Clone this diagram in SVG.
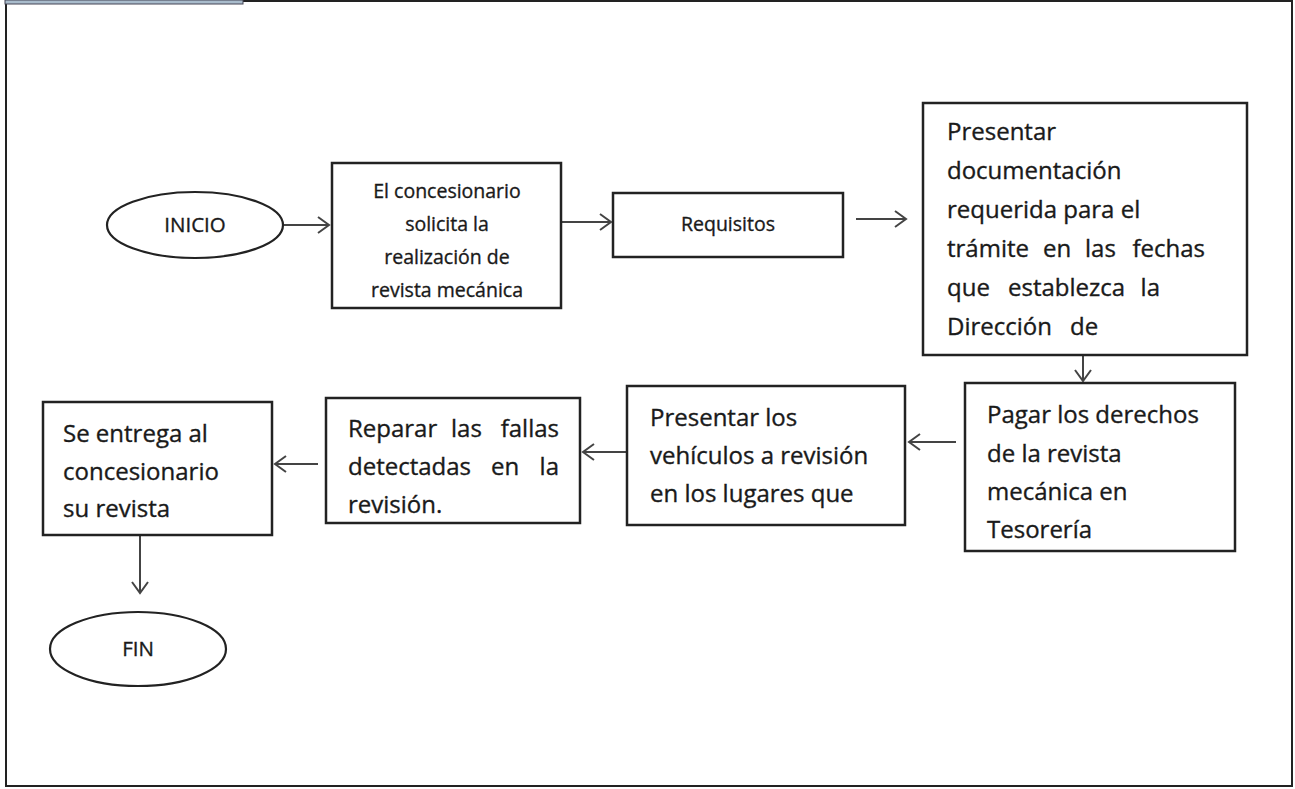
<svg xmlns="http://www.w3.org/2000/svg" width="1295" height="789" viewBox="0 0 1295 789">
<style>
.box{fill:#fff;stroke:#222;stroke-width:2.5}
.oval{fill:#fff;stroke:#222;stroke-width:2.2}
.t{font-family:"Open Sans","Liberation Sans",sans-serif;fill:#1a1a1a;stroke:#1a1a1a;stroke-width:0.35}
.s{font-size:19.5px}
.o{font-size:20.5px}
.b{font-size:24px}
.c{stroke:#444;stroke-width:2;fill:none}
</style>
<defs>
<marker id="ah" markerUnits="userSpaceOnUse" markerWidth="16" markerHeight="20" viewBox="0 0 16 20" refX="13" refY="10" orient="auto">
<path d="M2,2 L13,10 L2,18" fill="none" stroke="#444" stroke-width="2"/>
</marker>
</defs>
<rect x="0" y="0" width="1295" height="789" fill="#fff"/>
<g id="frame">
<rect x="6" y="1" width="1286" height="785" fill="none" stroke="#222" stroke-width="2"/>
<rect x="5" y="0" width="238" height="4" fill="#a9bccc" stroke="#445" stroke-width="1"/>
</g>
<g id="connectors">
<line class="c" x1="283" y1="225" x2="329" y2="225" marker-end="url(#ah)"/>
<line class="c" x1="561" y1="222" x2="611" y2="222" marker-end="url(#ah)"/>
<line class="c" x1="856" y1="219" x2="906" y2="219" marker-end="url(#ah)"/>
<line class="c" x1="1083" y1="356" x2="1083" y2="381" marker-end="url(#ah)"/>
<line class="c" x1="956" y1="442" x2="909" y2="442" marker-end="url(#ah)"/>
<line class="c" x1="627" y1="452" x2="583" y2="452" marker-end="url(#ah)"/>
<line class="c" x1="318" y1="464" x2="275" y2="464" marker-end="url(#ah)"/>
<line class="c" x1="140" y1="536" x2="140" y2="593" marker-end="url(#ah)"/>
</g>
<g id="inicio">
<ellipse class="oval" cx="195" cy="225" rx="88" ry="33"/>
<text class="t o" x="195" y="232" text-anchor="middle">INICIO</text>
</g>
<g id="solicita">
<rect class="box" x="332" y="163" width="229" height="145"/>
<text class="t s" text-anchor="middle"><tspan x="447" y="198">El concesionario</tspan><tspan x="447" y="231">solicita la</tspan><tspan x="447" y="264">realización de</tspan><tspan x="447" y="297">revista mecánica</tspan></text>
</g>
<g id="requisitos">
<rect class="box" x="613" y="193" width="230" height="64"/>
<text class="t s" x="728" y="231" text-anchor="middle">Requisitos</text>
</g>
<g id="documentacion">
<rect class="box" x="923" y="103" width="324" height="252"/>
<text class="t b" x="947" y="140">Presentar</text>
<text class="t b" x="947" y="179">documentación</text>
<text class="t b" x="947" y="218">requerida para el</text>
<text class="t b" y="257"><tspan x="947">trámite</tspan><tspan x="1043">en</tspan><tspan x="1085">las</tspan><tspan x="1205" text-anchor="end">fechas</tspan></text>
<text class="t b" y="296"><tspan x="947">que</tspan><tspan x="1008">establezca</tspan><tspan x="1160" text-anchor="end">la</tspan></text>
<text class="t b" y="335"><tspan x="947">Dirección</tspan><tspan x="1070">de</tspan></text>
</g>
<g id="pagar">
<rect class="box" x="965" y="383" width="270" height="168"/>
<text class="t b" x="987" y="423">Pagar los derechos</text>
<text class="t b" x="987" y="462">de la revista</text>
<text class="t b" x="987" y="500">mecánica en</text>
<text class="t b" x="987" y="538">Tesorería</text>
</g>
<g id="presentar">
<rect class="box" x="627" y="386" width="278" height="139"/>
<text class="t b" x="650" y="426">Presentar los</text>
<text class="t b" x="650" y="464">vehículos a revisión</text>
<text class="t b" x="650" y="502">en los lugares que</text>
</g>
<g id="reparar">
<rect class="box" x="326" y="398" width="254" height="125"/>
<text class="t b" y="437"><tspan x="348">Reparar</tspan><tspan x="451">las</tspan><tspan x="559" text-anchor="end">fallas</tspan></text>
<text class="t b" y="475"><tspan x="348">detectadas</tspan><tspan x="491">en</tspan><tspan x="559" text-anchor="end">la</tspan></text>
<text class="t b" x="348" y="513">revisión.</text>
</g>
<g id="entrega">
<rect class="box" x="43" y="402" width="229" height="133"/>
<text class="t b" x="63" y="442">Se entrega al</text>
<text class="t b" x="63" y="480">concesionario</text>
<text class="t b" x="63" y="517">su revista</text>
</g>
<g id="fin">
<ellipse class="oval" cx="138" cy="649" rx="88" ry="37"/>
<text class="t o" x="138" y="656" text-anchor="middle">FIN</text>
</g>
</svg>
